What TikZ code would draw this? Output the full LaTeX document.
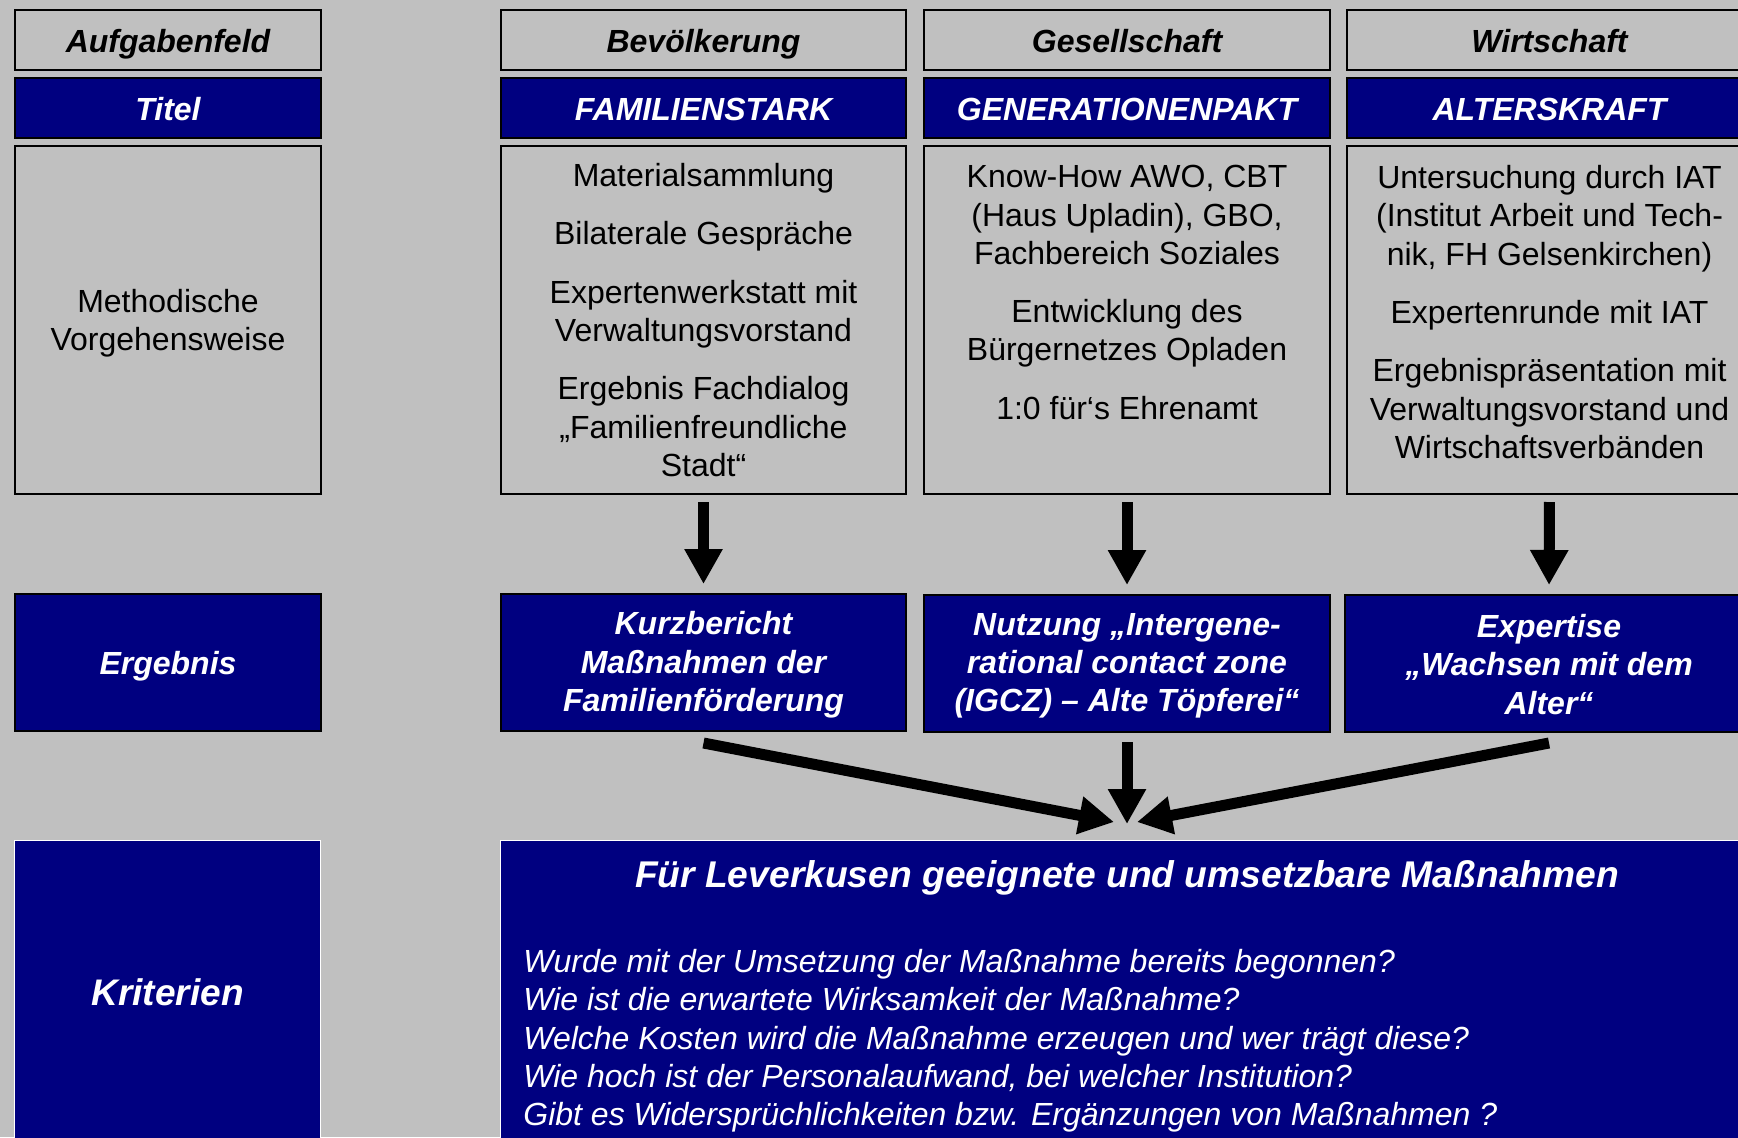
\documentclass[tikz,border=0pt]{standalone}
\usepackage{fontspec}
\setmainfont{Liberation Sans}
\usetikzlibrary{arrows.meta}
\definecolor{bg}{HTML}{C0C0C0}
\definecolor{navy}{HTML}{000080}
\begin{document}
\begin{tikzpicture}[x=0.5pt,y=-0.5pt,
  gbox/.style={draw=black, line width=1pt, fill=bg, inner sep=0pt, anchor=north west, text=black, align=center},
  bbox/.style={draw=black, line width=1pt, fill=navy, inner sep=0pt, anchor=north west, text=white, align=center},
  kbox/.style={draw=white, line width=0.6pt, fill=navy, inner sep=0pt, anchor=north west, text=white, align=center},
  hdr/.style={font=\fontsize{16}{19.15}\selectfont\bfseries\itshape},
  one/.style={text height=13pt, text depth=0.8pt},
  reg/.style={font=\fontsize{16}{19.15}\selectfont},
  body/.style={font=\fontsize{16}{19.15}\selectfont, align=center, text=black, anchor=north, inner sep=0pt},
  bigarrow/.style={line width=5.5pt, -{Triangle[width=18pt,length=17.5pt]}, black},
]
\fill[bg] (0,0) rectangle (1738,1137);
\clip (0,0) rectangle (1738,1137);
\useasboundingbox (0,0) rectangle (1738,1137);

% left column
\node[gbox, hdr, one, minimum width=153pt, minimum height=30pt] (a1) at (14,9) {Aufgabenfeld};
\node[bbox, hdr, one, minimum width=153pt, minimum height=30pt] (a2) at (14,77) {Titel};
\node[gbox, minimum width=153pt, minimum height=174pt] (a3) at (14,145) {};
\node[reg, align=center, inner sep=0pt] (a3t) at ([yshift=-1.5pt]a3.center) {Methodische\\Vorgehensweise};
\node[bbox, hdr, one, minimum width=153pt, minimum height=68.5pt] (a4) at (14,593) {Ergebnis};
\node[kbox, font=\fontsize{18.5}{22}\selectfont\bfseries\itshape, minimum width=153pt, minimum height=152pt] (a5) at (14,840) {Kriterien};

% column 1
\node[gbox, hdr, one, minimum width=202.5pt, minimum height=30pt] (h1) at (500,9) {Bevölkerung};
\node[bbox, hdr, one, minimum width=202.5pt, minimum height=30pt] (t1) at (500,77) {FAMILIENSTARK};
\node[gbox, minimum width=202.5pt, minimum height=174pt] (m1) at (500,145) {};
\node[bbox, minimum width=202.5pt, minimum height=68.5pt] (e1) at (500,593) {};
\node[hdr, text=white, align=center, inner sep=0pt] (e1t) at ([yshift=-1.2pt]e1.center) {Kurzbericht\\Maßnahmen der\\Familienförderung};

% column 2
\node[gbox, hdr, one, minimum width=203pt, minimum height=30pt] (h2) at (923,9) {Gesellschaft};
\node[bbox, hdr, one, minimum width=203pt, minimum height=30pt] (t2) at (923,77) {GENERATIONENPAKT};
\node[gbox, minimum width=203pt, minimum height=174pt] (m2) at (923,145) {};
\node[bbox, minimum width=203pt, minimum height=68.5pt] (e2) at (923,594) {};
\node[hdr, text=white, align=center, inner sep=0pt] (e2t) at ([yshift=-1.2pt]e2.center) {Nutzung „Intergene-\\rational contact zone\\(IGCZ) – Alte Töpferei“};

% column 3
\node[gbox, hdr, one, minimum width=202.5pt, minimum height=30pt] (h3) at (1346,9) {Wirtschaft};
\node[bbox, hdr, one, minimum width=202.5pt, minimum height=30pt] (t3) at (1346,77) {ALTERSKRAFT};
\node[gbox, minimum width=202.5pt, minimum height=174pt] (m3) at (1346,145) {};
\node[bbox, minimum width=204pt, minimum height=68.5pt] (e3) at (1344,594) {};
\node[hdr, text=white, align=center, inner sep=0pt] (e3t) at ([yshift=-0.5pt]e3.center) {Expertise\\„Wachsen mit dem\\Alter“};

% body texts
\node[body] (m1t) at ([yshift=-9pt]m1.north) {Materialsammlung\\[10pt]Bilaterale Gespräche\\[10pt]Expertenwerkstatt mit\\Verwaltungsvorstand\\[10pt]Ergebnis Fachdialog\\„Familienfreundliche\\Stadt“};
\node[body] (m2t) at ([yshift=-10pt]m2.north) {Know-How AWO, CBT\\(Haus Upladin), GBO,\\Fachbereich Soziales\\[10pt]Entwicklung des\\Bürgernetzes Opladen\\[10pt]1:0 für‘s Ehrenamt};
\node[body] (m3t) at ([yshift=-10pt]m3.north) {Untersuchung durch IAT\\(Institut Arbeit und Tech-\\nik, FH Gelsenkirchen)\\[10pt]Expertenrunde mit IAT\\[10pt]Ergebnispräsentation mit\\Verwaltungsvorstand und\\Wirtschaftsverbänden};

% bottom main box
\node[kbox, minimum width=625.5pt, minimum height=152pt] (k) at (500,840) {};
\node[font=\fontsize{18.6}{22}\selectfont\bfseries\itshape, text=white, inner sep=0pt] (kt) at (1127,878) {Für Leverkusen geeignete und umsetzbare Maßnahmen};
\node[font=\fontsize{16}{19.15}\selectfont\itshape, text=white, align=left, anchor=north west, inner sep=0pt] (kq) at (523,949) {Wurde mit der Umsetzung der Maßnahme bereits begonnen?\\Wie ist die erwartete Wirksamkeit der Maßnahme?\\Welche Kosten wird die Maßnahme erzeugen und wer trägt diese?\\Wie hoch ist der Personalaufwand, bei welcher Institution?\\Gibt es Widersprüchlichkeiten bzw. Ergänzungen von Maßnahmen ?};

% arrows
\draw[bigarrow, shorten <=3.5pt, shorten >=4.5pt] (m1.south) -- (e1.north);
\draw[bigarrow, shorten <=3.5pt, shorten >=4.5pt] (m2.south) -- (e2.north);
\draw[bigarrow, shorten <=3.5pt, shorten >=4.5pt] (m3.south) -- (e3.north);

\coordinate (tipL) at (1114,822);
\coordinate (tipR) at (1137,822);
\draw[bigarrow, shorten <=4.5pt, shorten >=8pt] (e2.south) -- (k.north -| e2.south);
\draw[bigarrow] ([yshift=-5.5pt]e1.south) -- (tipL);
\draw[bigarrow] ([yshift=-5pt]e3.south) -- (tipR);
\end{tikzpicture}
\end{document}
